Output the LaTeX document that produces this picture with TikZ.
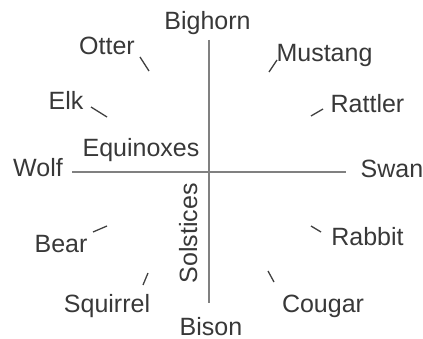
\documentclass[tikz,border=0pt]{standalone}
\usepackage{fontspec}
\setmainfont{Liberation Sans}

\begin{document}
\begin{tikzpicture}[x=1pt, y=-1pt,
    lbl/.style={anchor=base, inner sep=0pt, font=\fontsize{25}{29}\selectfont, text=black!78},
    tick/.style={line width=1.3pt, black!75},
    axis/.style={line width=2pt, black!50}]
    \useasboundingbox (0,0) rectangle (423,339);

    % axes
    \coordinate (north) at (209,40);
    \coordinate (south) at (209,303);
    \coordinate (west) at (72,172);
    \coordinate (east) at (346,172);
    \draw[axis] (west) to (east);
    \draw[axis] (north) to (south);

    % labels
    \node[lbl] (bighorn) at (207.5,30) {Bighorn};
    \node[lbl] (otter) at (107,55) {Otter};
    \node[lbl] (mustang) at (324.5,62) {Mustang};
    \node[lbl] (elk) at (66,110) {Elk};
    \node[lbl] (rattler) at (367.5,113) {Rattler};
    \node[lbl] (equinoxes) at (141,157) {Equinoxes};
    \node[lbl] (wolf) at (38,177) {Wolf};
    \node[lbl] (swan) at (392,178) {Swan};
    \node[lbl, rotate=90] (solstices) at (197,233.5) {Solstices};
    \node[lbl] (bear) at (61,252) {Bear};
    \node[lbl] (rabbit) at (367.5,246) {Rabbit};
    \node[lbl] (squirrel) at (107,312) {Squirrel};
    \node[lbl] (cougar) at (323,312) {Cougar};
    \node[lbl] (bison) at (211,335) {Bison};

    % ticks
    \coordinate (otter1) at (140,57);
    \coordinate (otter2) at (149,71);
    \draw[tick] (otter1) to (otter2);

    \coordinate (elk1) at (91,107);
    \coordinate (elk2) at (107,117);
    \draw[tick] (elk1) to (elk2);

    \coordinate (mustang1) at (277,60);
    \coordinate (mustang2) at (269,72);
    \draw[tick] (mustang1) to (mustang2);

    \coordinate (rattler1) at (323,109);
    \coordinate (rattler2) at (311,116);
    \draw[tick] (rattler1) to (rattler2);

    \coordinate (bear1) at (107,226);
    \coordinate (bear2) at (93,232);
    \draw[tick] (bear1) to (bear2);

    \coordinate (squirrel1) at (148,273);
    \coordinate (squirrel2) at (143,285);
    \draw[tick] (squirrel1) to (squirrel2);

    \coordinate (rabbit1) at (311,226);
    \coordinate (rabbit2) at (321,232);
    \draw[tick] (rabbit1) to (rabbit2);

    \coordinate (cougar1) at (268,271);
    \coordinate (cougar2) at (274,282);
    \draw[tick] (cougar1) to (cougar2);
\end{tikzpicture}
\end{document}
